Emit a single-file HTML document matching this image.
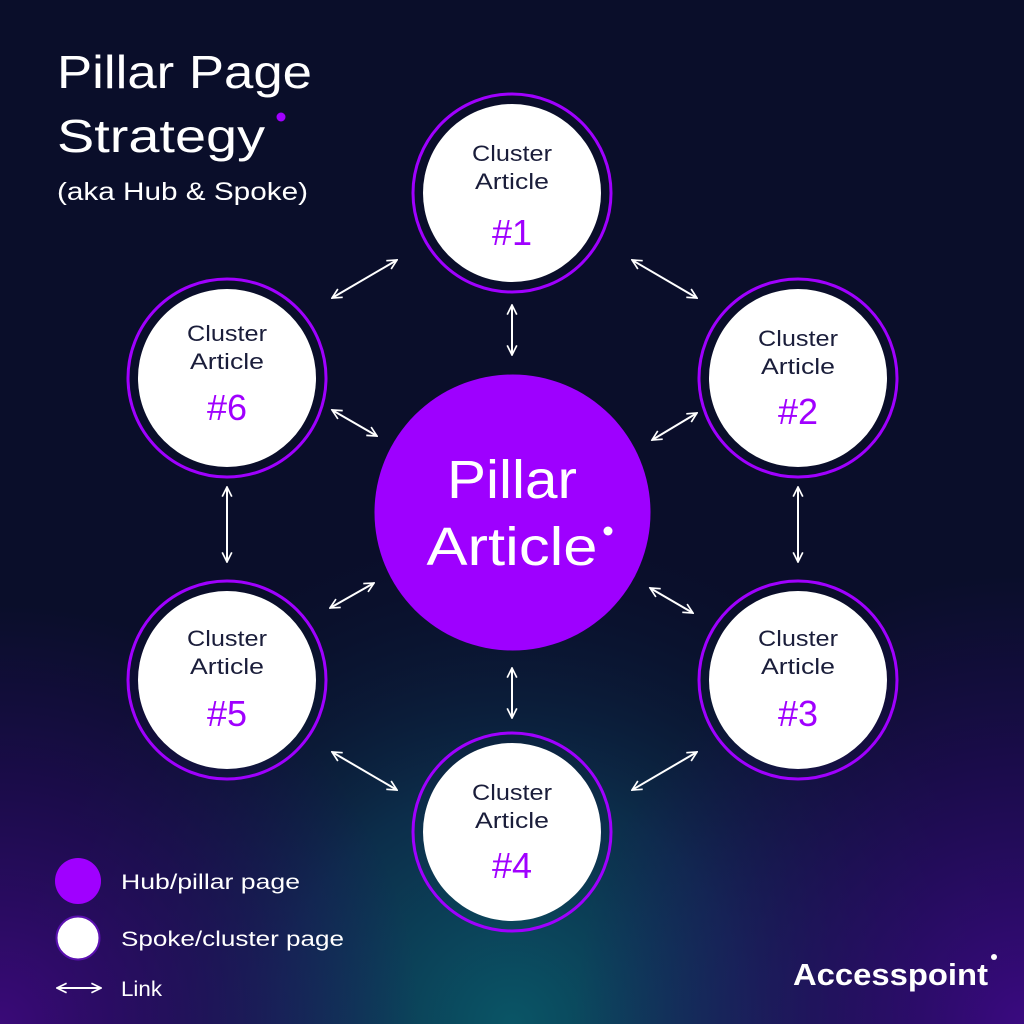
<!DOCTYPE html>
<html><head><meta charset="utf-8"><style>
html,body{margin:0;padding:0;width:1024px;height:1024px;overflow:hidden;background:#0a0e2a}
svg{display:block}
text{font-family:"Liberation Sans",sans-serif}
</style></head><body>
<svg width="1024" height="1024" viewBox="0 0 1024 1024" xmlns="http://www.w3.org/2000/svg">
<defs>
<radialGradient id="g1" cx="512" cy="1024" r="520" gradientUnits="userSpaceOnUse">
<stop offset="0" stop-color="#0a5566"/><stop offset="0.45" stop-color="#0c2d4a"/><stop offset="1" stop-color="#0a0e2a" stop-opacity="0"/>
</radialGradient>
<radialGradient id="g2" cx="1024" cy="1024" r="450" gradientUnits="userSpaceOnUse">
<stop offset="0" stop-color="#3a0a80"/><stop offset="1" stop-color="#2a0a70" stop-opacity="0"/>
</radialGradient>
<radialGradient id="g3" cx="0" cy="1024" r="420" gradientUnits="userSpaceOnUse">
<stop offset="0" stop-color="#3a0a78"/><stop offset="1" stop-color="#2a0a70" stop-opacity="0"/>
</radialGradient>
<marker id="ah" viewBox="0 0 10 10" refX="9" refY="5" markerWidth="12" markerHeight="12" orient="auto-start-reverse" markerUnits="userSpaceOnUse">
<path d="M1,1 L9,5 L1,9" fill="none" stroke="#fff" stroke-width="1.4"/>
</marker>
</defs>
<rect width="1024" height="1024" fill="#0a0e2a"/>
<rect width="1024" height="1024" fill="url(#g1)"/>
<rect width="1024" height="1024" fill="url(#g2)"/>
<rect width="1024" height="1024" fill="url(#g3)"/>

<text x="57" y="88" fill="#fff" font-size="46" textLength="255" lengthAdjust="spacingAndGlyphs">Pillar Page</text>
<text x="57" y="152" fill="#fff" font-size="46" textLength="208" lengthAdjust="spacingAndGlyphs">Strategy</text>
<circle cx="281" cy="117" r="4.5" fill="#a000ff"/>
<text x="57" y="200" fill="#fff" font-size="25" textLength="251" lengthAdjust="spacingAndGlyphs">(aka Hub &amp; Spoke)</text>

<g stroke="#fff" stroke-width="2" marker-start="url(#ah)" marker-end="url(#ah)">
<line x1="332" y1="298" x2="397" y2="260"/>
<line x1="632" y1="260" x2="697" y2="298"/>
<line x1="512" y1="305" x2="512" y2="355"/>
<line x1="332" y1="410" x2="377" y2="436"/>
<line x1="652" y1="440" x2="697" y2="413"/>
<line x1="227" y1="487" x2="227" y2="562"/>
<line x1="798" y1="487" x2="798" y2="562"/>
<line x1="330" y1="608" x2="374" y2="583"/>
<line x1="650" y1="588" x2="693" y2="613"/>
<line x1="512" y1="668" x2="512" y2="718"/>
<line x1="332" y1="752" x2="397" y2="790"/>
<line x1="697" y1="752" x2="632" y2="790"/>
</g>

<circle cx="512.5" cy="512.5" r="138" fill="#9e00ff"/>
<text x="512" y="498" fill="#fff" font-size="54" text-anchor="middle" textLength="130" lengthAdjust="spacingAndGlyphs">Pillar</text>
<text x="512" y="565" fill="#fff" font-size="54" text-anchor="middle" textLength="171" lengthAdjust="spacingAndGlyphs">Article</text>
<circle cx="608" cy="531" r="4.5" fill="#fff"/>

<g font-size="22" text-anchor="middle">
<g transform="translate(512,193)"><circle r="99" fill="none" stroke="#a000ff" stroke-width="3"/><circle r="89" fill="#fff"/><text y="-32" fill="#1a1d3a" textLength="80" lengthAdjust="spacingAndGlyphs">Cluster</text><text y="-4" fill="#1a1d3a" textLength="74" lengthAdjust="spacingAndGlyphs">Article</text><text y="52" fill="#a000ff" font-size="36">#1</text></g>
<g transform="translate(798,378)"><circle r="99" fill="none" stroke="#a000ff" stroke-width="3"/><circle r="89" fill="#fff"/><text y="-32" fill="#1a1d3a" textLength="80" lengthAdjust="spacingAndGlyphs">Cluster</text><text y="-4" fill="#1a1d3a" textLength="74" lengthAdjust="spacingAndGlyphs">Article</text><text y="46" fill="#a000ff" font-size="36">#2</text></g>
<g transform="translate(798,680)"><circle r="99" fill="none" stroke="#a000ff" stroke-width="3"/><circle r="89" fill="#fff"/><text y="-34" fill="#1a1d3a" textLength="80" lengthAdjust="spacingAndGlyphs">Cluster</text><text y="-6" fill="#1a1d3a" textLength="74" lengthAdjust="spacingAndGlyphs">Article</text><text y="46" fill="#a000ff" font-size="36">#3</text></g>
<g transform="translate(512,832)"><circle r="99" fill="none" stroke="#a000ff" stroke-width="3"/><circle r="89" fill="#fff"/><text y="-32" fill="#1a1d3a" textLength="80" lengthAdjust="spacingAndGlyphs">Cluster</text><text y="-4" fill="#1a1d3a" textLength="74" lengthAdjust="spacingAndGlyphs">Article</text><text y="46" fill="#a000ff" font-size="36">#4</text></g>
<g transform="translate(227,680)"><circle r="99" fill="none" stroke="#a000ff" stroke-width="3"/><circle r="89" fill="#fff"/><text y="-34" fill="#1a1d3a" textLength="80" lengthAdjust="spacingAndGlyphs">Cluster</text><text y="-6" fill="#1a1d3a" textLength="74" lengthAdjust="spacingAndGlyphs">Article</text><text y="46" fill="#a000ff" font-size="36">#5</text></g>
<g transform="translate(227,378)"><circle r="99" fill="none" stroke="#a000ff" stroke-width="3"/><circle r="89" fill="#fff"/><text y="-37" fill="#1a1d3a" textLength="80" lengthAdjust="spacingAndGlyphs">Cluster</text><text y="-9" fill="#1a1d3a" textLength="74" lengthAdjust="spacingAndGlyphs">Article</text><text y="42" fill="#a000ff" font-size="36">#6</text></g>
</g>

<circle cx="78" cy="881" r="23" fill="#a000ff"/>
<circle cx="78" cy="938" r="21.5" fill="#fff" stroke="#5a10b0" stroke-width="2"/>
<line x1="57" y1="988" x2="101" y2="988" stroke="#fff" stroke-width="2" marker-start="url(#ah)" marker-end="url(#ah)"/>
<g fill="#fff" font-size="21">
<text x="121" y="889" textLength="179" lengthAdjust="spacingAndGlyphs">Hub/pillar page</text>
<text x="121" y="946" textLength="223" lengthAdjust="spacingAndGlyphs">Spoke/cluster page</text>
<text x="121" y="996" textLength="41" lengthAdjust="spacingAndGlyphs">Link</text>
</g>
<text x="793" y="985" fill="#fff" font-size="31" font-weight="bold" textLength="195" lengthAdjust="spacingAndGlyphs">Accesspoint</text>
<circle cx="994" cy="957" r="3" fill="#fff"/>
</svg>
</body></html>
